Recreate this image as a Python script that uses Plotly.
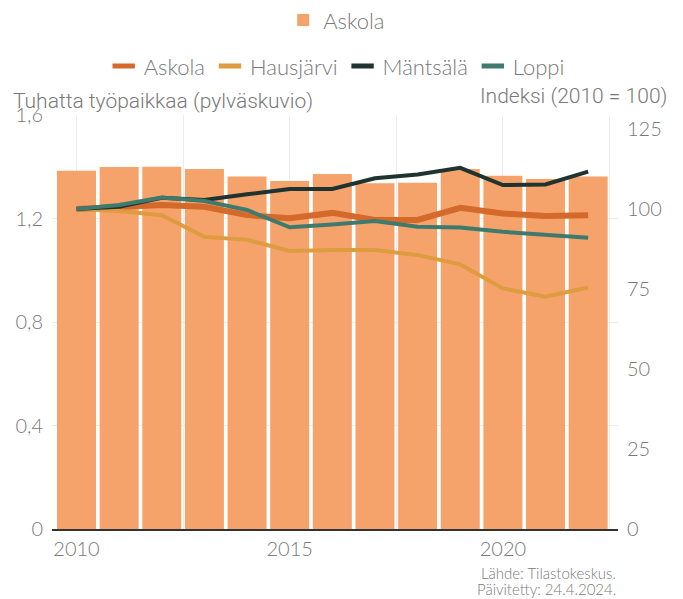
import plotly.graph_objects as go

years = list(range(2010, 2023))
askola_jobs = [1.385, 1.399, 1.400, 1.391, 1.362, 1.345, 1.372, 1.336, 1.338, 1.391, 1.365, 1.353, 1.362]

idx_askola = [100, 100.7, 101.3, 100.7, 98.1, 97.1, 98.8, 96.6, 96.6, 100.4, 98.6, 97.8, 98.1]
idx_hausjarvi = [100, 99.4, 98.1, 91.3, 90.4, 86.9, 87.2, 87.2, 85.6, 82.7, 75.2, 72.6, 75.5]
idx_mantsala = [100, 100.7, 103.5, 102.8, 104.6, 106.3, 106.3, 109.6, 110.8, 112.9, 107.5, 107.7, 111.7]
idx_loppi = [100, 101.3, 103.6, 102.5, 99.7, 94.3, 95.2, 96.3, 94.5, 94.2, 92.9, 91.9, 91.0]

line_names = ["Askola", "Hausjärvi", "Mäntsälä", "Loppi"]
line_values = [idx_askola, idx_hausjarvi, idx_mantsala, idx_loppi]
line_colors = ["#D3692B", "#DF9B3F", "#1F3430", "#3F7A6E"]
line_widths = [6, 4, 4, 4]

bar_color = "#F5A36A"
grey = "#7a7a7a"
grid = "#ececec"
tf = dict(family="Lato", size=20, color=grey, weight=300)
lf = dict(family="Lato", size=22, color=grey, weight=300)
titlef = dict(family="Roboto", size=21, color="#7a7a7a", weight=300)
srcf = dict(family="Lato", size=15, color=grey, weight=300)

fig = go.Figure()
fig.add_trace(go.Bar(x=years, y=askola_jobs, name="Askola", marker=dict(color=bar_color, line=dict(width=0)),
                     legend="legend", yaxis="y"))

for name, vals, col, w in zip(line_names, line_values, line_colors, line_widths):
    fig.add_trace(go.Scatter(x=years, y=vals, mode="lines", name=name, line=dict(color=col, width=w),
                             yaxis="y2", showlegend=False))
for name, col in zip(line_names, line_colors):
    fig.add_trace(go.Scatter(x=[None], y=[None], mode="markers", name=name, yaxis="y2",
                             marker=dict(symbol="line-ew", size=16, color=col, line=dict(color=col, width=5)),
                             legend="legend2"))

fig.update_layout(
    width=683, height=599,
    margin=dict(l=52, r=65, t=115, b=70, autoexpand=False),
    plot_bgcolor="white", paper_bgcolor="white",
    separators=", ",
    bargap=0.085,
    font=dict(family="Lato", color=grey, size=19),
    xaxis=dict(range=[2009.425, 2022.7], tickvals=[2010, 2015, 2020], showgrid=True, gridcolor=grid, gridwidth=1,
               minor=dict(tickvals=[2012.5, 2017.5, 2022.5], showgrid=True, gridcolor=grid, gridwidth=1),
               showline=True, linecolor="#333333", linewidth=2, zeroline=False, ticks="",
               tickfont=tf, ticklabelstandoff=1, automargin=False),
    yaxis=dict(range=[0, 1.6], tickvals=[0, 0.4, 0.8, 1.2, 1.6], ticktext=["0", "0,4", "0,8", "1,2", "1,6"],
               showgrid=True, gridcolor=grid, gridwidth=1, zeroline=False,
               tickfont=tf, ticklabelstandoff=8, automargin=False),
    yaxis2=dict(range=[0, 129.4], tickvals=[0, 25, 50, 75, 100, 125], overlaying="y", side="right",
                showgrid=False, zeroline=False, tickfont=tf,
                ticklabelstandoff=8, automargin=False),
    legend=dict(orientation="h", x=0.503, xanchor="center", y=1.229, yanchor="middle",
                font=lf, bgcolor="rgba(0,0,0,0)"),
    legend2=dict(orientation="h", x=0.503, xanchor="center", y=1.118, yanchor="middle",
                 font=lf, bgcolor="rgba(0,0,0,0)"),
    annotations=[
        dict(text="Tuhatta työpaikkaa (pylväskuvio)", xref="paper", yref="paper", x=-0.072, y=1.035,
             xanchor="left", yanchor="middle", showarrow=False, font=titlef),
        dict(text="Indeksi (2010 = 100)", xref="paper", yref="paper", x=1.09, y=1.045,
             xanchor="right", yanchor="middle", showarrow=False, font=titlef),
        dict(text="Lähde: Tilastokeskus.", xref="paper", yref="paper", x=1.0, y=-0.106,
             xanchor="right", yanchor="middle", showarrow=False, font=srcf),
        dict(text="Päivitetty: 24.4.2024.", xref="paper", yref="paper", x=1.0, y=-0.146,
             xanchor="right", yanchor="middle", showarrow=False, font=srcf),
    ],
)

fig.write_html("out.html", config={"displayModeBar": False},
               post_script="document.body.style.margin='0';document.body.style.padding='0';")
